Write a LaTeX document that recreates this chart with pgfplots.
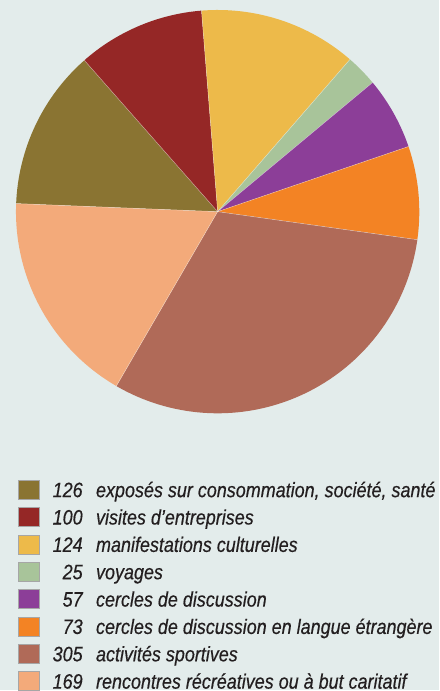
\documentclass[border=0pt]{standalone}
\usepackage{fontspec}
\setmainfont{Liberation Sans}[FakeStretch=0.86, ItalicFeatures={FakeBold=0.4}]
\usepackage{pgfplots}
\usepackage{pgfplotstable}
\pgfplotsset{compat=1.18}
\definecolor{bg}{HTML}{E3ECEB}
\definecolor{txt}{HTML}{231F20}
\definecolor{c0}{HTML}{8A7432}
\definecolor{c1}{HTML}{952726}
\definecolor{c2}{HTML}{EDBA4A}
\definecolor{c3}{HTML}{A8C49A}
\definecolor{c4}{HTML}{8C3E98}
\definecolor{c5}{HTML}{F38324}
\definecolor{c6}{HTML}{B06A58}
\definecolor{c7}{HTML}{F3AA7A}
\pgfplotstableread{
value
126
100
124
25
57
73
305
169
}\pietable
\newcommand\legrow[4]{%
  \draw[fill=#2, draw=black!35, line width=0.7bp] (axis cs:18,{193-27.4*#1+17}) rectangle (axis cs:39,{193-27.4*#1-2});
  \node[overlay, anchor=base east, inner sep=0pt, text=txt, font=\fontsize{21}{24}\selectfont\itshape] at (axis cs:83,{193-27.4*#1}) {#3};
  \node[overlay, anchor=base west, inner sep=0pt, text=txt, font=\fontsize{21}{24}\selectfont\itshape] at (axis cs:96,{193-27.4*#1}) {#4};
}
\begin{document}
\begin{tikzpicture}
\gdef\total{0}
\foreach \i in {0,...,7}{
  \pgfplotstablegetelem{\i}{value}\of\pietable
  \pgfmathsetmacro\myt{\total+\pgfplotsretval}
  \xdef\total{\myt}
}
\gdef\cum{0}
\foreach \i in {0,...,7}{
  \pgfplotstablegetelem{\i}{value}\of\pietable
  \let\myv\pgfplotsretval
  \pgfmathsetmacro\mys{177.7-\cum/\total*360}
  \pgfmathsetmacro\myc{\cum+\myv}
  \pgfmathsetmacro\mye{177.7-\myc/\total*360}
  \expandafter\xdef\csname sa\i\endcsname{\mys}
  \expandafter\xdef\csname ea\i\endcsname{\mye}
  \xdef\cum{\myc}
}
\begin{axis}[
  scale only axis, width=440bp, height=691bp,
  xmin=0, xmax=440, ymin=0, ymax=691,
  hide axis, clip=false,
]
\fill[bg] (axis cs:0,0) rectangle (axis cs:440,691);
\pgfplotsinvokeforeach{0,...,7}{
  \fill[c#1] (axis cs:218,479) -- ++(\csname sa#1\endcsname:202bp) arc[start angle=\csname sa#1\endcsname, end angle=\csname ea#1\endcsname, radius=202bp] -- cycle;
}
\pgfplotsinvokeforeach{0,...,7}{
  \draw[white, opacity=0.45, line width=0.5bp] (axis cs:218,479) -- ++(\csname sa#1\endcsname:202bp);
}
\legrow{0}{c0}{126}{exposés sur consommation, société, santé}
\legrow{1}{c1}{100}{visites d’entreprises}
\legrow{2}{c2}{124}{manifestations culturelles}
\legrow{3}{c3}{25}{voyages}
\legrow{4}{c4}{57}{cercles de discussion}
\legrow{5}{c5}{73}{cercles de discussion en langue étrangère}
\legrow{6}{c6}{305}{activités sportives}
\legrow{7}{c7}{169}{rencontres récréatives ou à but caritatif}
\end{axis}
\end{tikzpicture}
\end{document}
